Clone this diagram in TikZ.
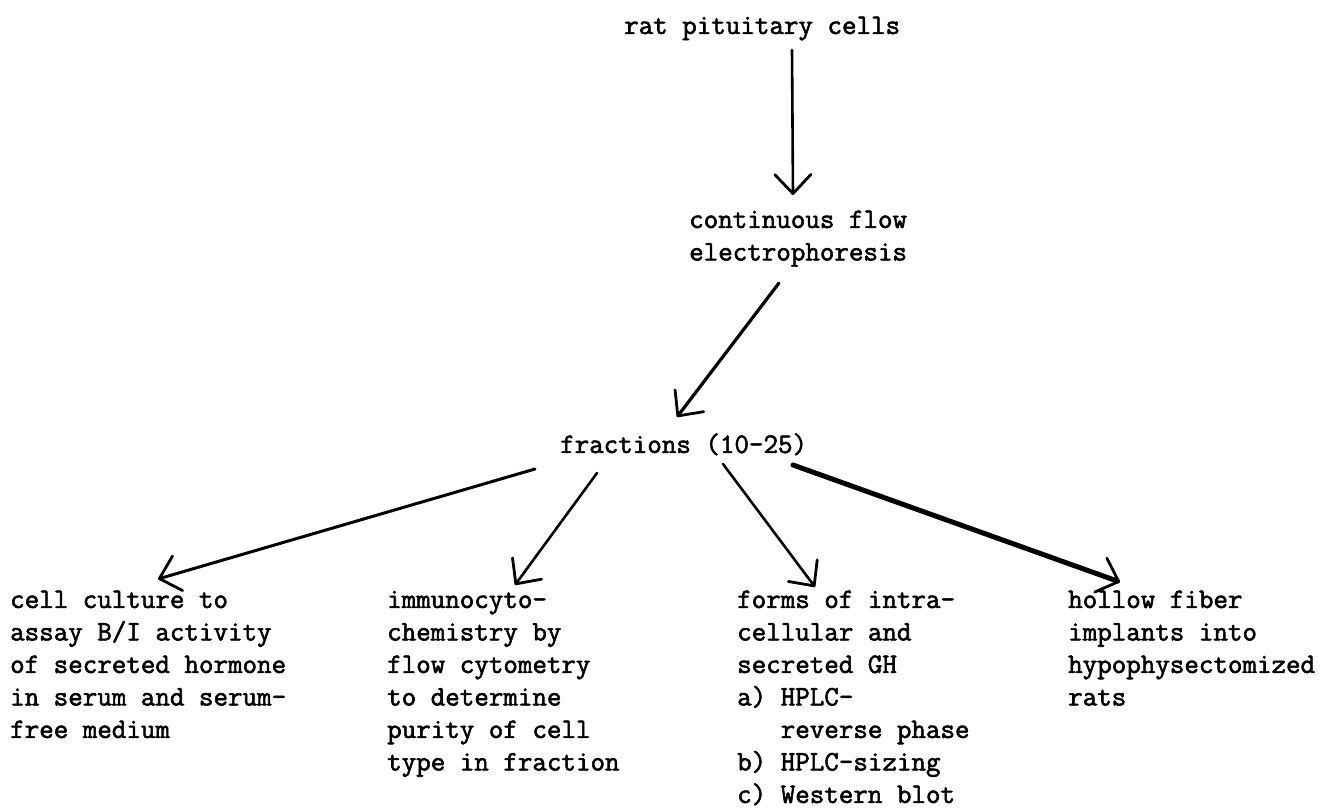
\documentclass[tikz,border=0pt]{standalone}
\usepackage{fontspec}
\setmonofont[FakeBold=2]{Latin Modern Mono}
\usetikzlibrary{arrows.meta}
\tikzset{
  txt/.style={anchor=north west, inner sep=0pt, align=left, font=\fontsize{28.2}{32.5}\selectfont\ttfamily},
  link/.style={line width=2.6pt, line cap=round, -{Straight Barb[length=19pt,width=36pt,line width=2.8pt,line cap=round,line join=round]}},
}
\begin{document}
\begin{tikzpicture}[x=1pt,y=-1pt]
\useasboundingbox[fill=white] (0,0) rectangle (1322,808);
% baseline = y + 22.75
\node[txt] (rat) at (624,11) {\strut rat pituitary cells};
\node[txt] (cfe) at (689,205) {\strut continuous flow\\electrophoresis};
\node[txt] (frac) at (560,430) {\strut fractions (10-25)};
\node[txt] (cc) at (10,585) {\strut cell culture to\\assay B/I activity\\of secreted hormone\\in serum and serum-\\free medium};
\node[txt] (imm) at (387,585) {\strut immunocyto-\\chemistry by\\flow cytometry\\to determine\\purity of cell\\type in fraction};
\node[txt] (gh) at (737,585) {\strut forms of intra-\\cellular and\\secreted GH\\a) HPLC-\\\phantom{a) }reverse phase\\b) HPLC-sizing\\c) Western blot};
\node[txt] (hf) at (1068,585) {\strut hollow fiber\\implants into\\hypophysectomized\\rats};
\coordinate (rat-o) at (792,50);
\coordinate (cfe-i) at (793,195);
\coordinate (cfe-o) at (779,283);
\coordinate (frac-i) at (677,417);
\coordinate (f1) at (535,469);
\coordinate (f2) at (597,473);
\coordinate (f3) at (723,464);
\coordinate (f4) at (793,465);
\coordinate (cc-i) at (158,579);
\coordinate (imm-i) at (515,585);
\coordinate (gh-i) at (815,587);
\coordinate (hf-i) at (1120,582);
\draw[link] (rat-o) -- (cfe-i);
\draw[link, line width=3.2pt] (cfe-o) -- (frac-i);
\draw[link, line width=3pt] (f1) -- (cc-i);
\draw[link] (f2) -- (imm-i);
\draw[link] (f3) -- (gh-i);
\draw[link, line width=5pt] (f4) -- (hf-i);
\end{tikzpicture}
\end{document}
